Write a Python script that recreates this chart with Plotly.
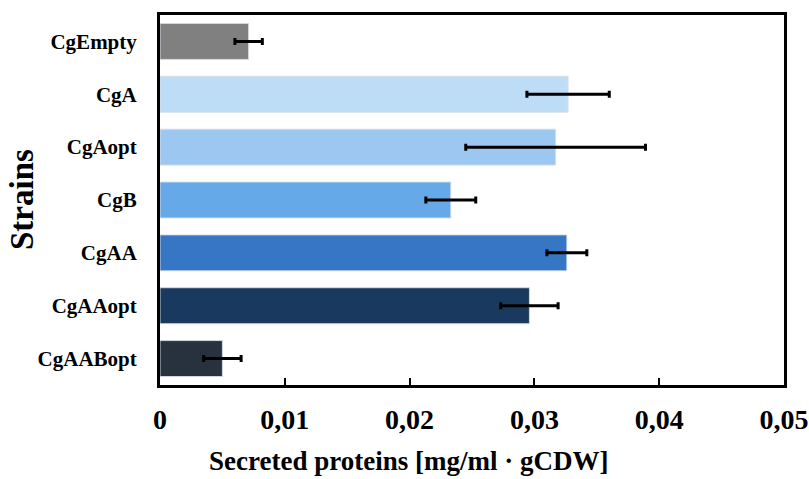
import plotly.graph_objects as go

strains = ["CgEmpty", "CgA", "CgAopt", "CgB", "CgAA", "CgAAopt", "CgAABopt"]
values = [0.0071, 0.0327, 0.0317, 0.0233, 0.0326, 0.0296, 0.0050]
errors = [0.0011, 0.0033, 0.0072, 0.0020, 0.0016, 0.0023, 0.0015]
colors = ["#808080", "#BDDCF6", "#9CC7F1", "#66A9E9", "#3577C5", "#1A395E", "#28323F"]
tick_vals = [0, 0.01, 0.02, 0.03, 0.04, 0.05]
tick_text = ["0", "0,01", "0,02", "0,03", "0,04", "0,05"]

FONT = "Liberation Serif"

fig = go.Figure()
fig.add_trace(go.Bar(
    x=values,
    y=strains,
    orientation="h",
    width=0.68,
    marker=dict(color=colors, line=dict(color="rgba(215,222,230,0.9)", width=1)),
    error_x=dict(type="data", array=errors, visible=True, color="black", thickness=3, width=3.5),
))

fig.update_layout(
    width=809,
    height=479,
    margin=dict(l=160, r=25, t=15, b=94, autoexpand=False),
    plot_bgcolor="white",
    paper_bgcolor="white",
    showlegend=False,
    font=dict(family=FONT, color="black"),
    xaxis=dict(
        range=[0, 0.05],
        tickvals=tick_vals,
        ticktext=tick_text,
        ticks="inside",
        ticklen=7,
        tickwidth=2,
        tickcolor="black",
        showgrid=False,
        zeroline=False,
        showline=True,
        linecolor="black",
        linewidth=3,
        mirror=True,
        automargin=False,
        tickfont=dict(family=FONT, size=28, color="black", weight="bold"),
        ticklabelstandoff=7,
    ),
    yaxis=dict(
        categoryorder="array",
        categoryarray=strains,
        autorange="reversed",
        showgrid=False,
        zeroline=False,
        showline=True,
        linecolor="black",
        linewidth=3,
        mirror=True,
        ticks="",
        automargin=False,
        tickfont=dict(family=FONT, size=21, color="black", weight="bold"),
        ticklabelstandoff=16,
    ),
    annotations=[
        dict(
            text="<b>Secreted proteins [mg/ml · gCDW]</b>",
            xref="paper", yref="paper",
            x=(408 - 160) / 624, y=-(461 - 385) / 370,
            xanchor="center", yanchor="middle",
            showarrow=False,
            font=dict(family=FONT, size=27, color="black"),
        ),
        dict(
            text="<b>Strains</b>",
            xref="paper", yref="paper",
            x=-(160 - 22) / 624, y=0.5,
            xanchor="center", yanchor="middle",
            textangle=-90,
            showarrow=False,
            font=dict(family=FONT, size=33, color="black"),
        ),
    ],
)

fig.write_html("out.html")
